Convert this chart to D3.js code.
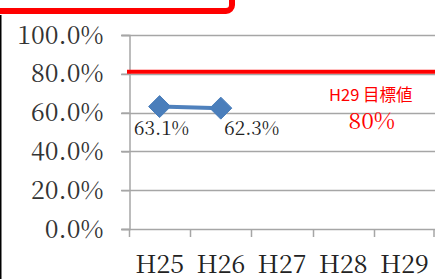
<!DOCTYPE html>
<html>
<head>
<meta charset="utf-8">
<script src="https://cdn.jsdelivr.net/npm/d3@7"></script>
<style>
  body { margin: 0; background: #fff; }
  svg { display: block; }
  .serif { font-family: 'Noto Serif CJK JP', 'Liberation Serif', serif; }
</style>
</head>
<body>
<div id="chart"></div>
<script>
// data
var years = ['H25', 'H26', 'H27', 'H28', 'H29']
var rates = [0.631, 0.623]
var rateLabels = ['63.1%', '62.3%']
var labelSide = ['below', 'right']
var yTicks = [0, 0.2, 0.4, 0.6, 0.8, 1.0]
var target = 0.8
var targetTitle = 'H29 目標値'
var targetText = '80%'

var width = 435
var height = 279

var svg = d3.select('#chart').append('svg')
    .attr('width', width)
    .attr('height', height)

var x = d3.scaleBand()
    .domain(years)
    .range([129, 435])
    .paddingInner(0)
    .paddingOuter(0)

var y = d3.scaleLinear()
    .domain([0, 1])
    .range([229, 35])

// red frame bit at the top and black left border
svg.append('rect')
    .attr('x', -20)
    .attr('y', -40)
    .attr('width', 252)
    .attr('height', 51)
    .attr('rx', 6)
    .attr('fill', 'none')
    .attr('stroke', '#ff0000')
    .attr('stroke-width', 6)
svg.append('line')
    .attr('x1', 0.5).attr('x2', 0.5)
    .attr('y1', 15).attr('y2', height)
    .attr('stroke', '#000')
    .attr('stroke-width', 2)

// horizontal gridlines
svg.append('g')
    .selectAll('line')
    .data(yTicks)
    .enter()
    .append('line')
    .attr('x1', 121)
    .attr('x2', width)
    .attr('y1', function(d) { return Math.round(y(d)) + 0.5 })
    .attr('y2', function(d) { return Math.round(y(d)) + 0.5 })
    .attr('stroke', '#a6a6a6')
    .attr('stroke-width', 1.5)

// y axis
var yAxis = svg.append('g')
    .attr('transform', 'translate(129.5,0)')
    .call(d3.axisLeft(y).tickValues(yTicks).tickSize(8).tickPadding(18)
        .tickFormat(function(d) { return (d * 100).toFixed(1) + '%' }))
yAxis.select('.domain').attr('stroke', '#a6a6a6').attr('stroke-width', 1.5)
yAxis.selectAll('.tick line').attr('stroke', '#a6a6a6').attr('stroke-width', 1.5)
yAxis.selectAll('text')
    .attr('class', 'serif')
    .attr('fill', '#333')
    .style('font-size', '25px')

// x axis, ticks at band edges
var edges = years.map(function(d) { return x(d) }).concat([x.range()[1]])
var xAxis = svg.append('g')
edges.forEach(function(e) {
    xAxis.append('line')
        .attr('x1', Math.min(Math.round(e) + 0.5, width - 1))
        .attr('x2', Math.min(Math.round(e) + 0.5, width - 1))
        .attr('y1', y(0))
        .attr('y2', y(0) + 8)
        .attr('stroke', '#a6a6a6')
        .attr('stroke-width', 1.5)
})
xAxis.selectAll('text')
    .data(years)
    .enter()
    .append('text')
    .attr('class', 'serif')
    .attr('x', function(d) { return x(d) + x.bandwidth() / 2 })
    .attr('y', 273)
    .attr('text-anchor', 'middle')
    .attr('fill', '#222')
    .style('font-size', '25px')
    .text(function(d) { return d })

// target line
svg.append('line')
    .attr('x1', 127)
    .attr('x2', width)
    .attr('y1', y(target) - 2)
    .attr('y2', y(target) - 2)
    .attr('stroke', '#ff0000')
    .attr('stroke-width', 4)

var tx = x('H28') + x.bandwidth()
svg.append('text')
    .attr('x', tx - 3)
    .attr('y', 101)
    .attr('text-anchor', 'middle')
    .attr('fill', '#ff0000')
    .style('font-family', 'Noto Sans CJK JP')
    .style('font-size', '16.5px')
    .text(targetTitle)
svg.append('text')
    .attr('class', 'serif')
    .attr('x', tx - 2)
    .attr('y', 129)
    .attr('text-anchor', 'middle')
    .attr('fill', '#ff0000')
    .style('font-size', '23px')
    .text(targetText)

// series line and markers
var pts = rates.map(function(v, i) {
    return { x: x(years[i]) + x.bandwidth() / 2, y: y(v), label: rateLabels[i], side: labelSide[i] }
})

svg.append('path')
    .datum(pts)
    .attr('fill', 'none')
    .attr('stroke', '#4f81bd')
    .attr('stroke-width', 4)
    .attr('d', d3.line().x(function(d) { return d.x }).y(function(d) { return d.y }))

svg.selectAll('.marker')
    .data(pts)
    .enter()
    .append('path')
    .attr('class', 'marker')
    .attr('transform', function(d) { return 'translate(' + d.x + ',' + d.y + ')' })
    .attr('d', 'M0,-11L11,0L0,11L-11,0Z')
    .attr('fill', '#4a7ebb')
    .attr('stroke', '#4a7ebb')
    .attr('stroke-linejoin', 'round')
    .attr('stroke-width', 1)

svg.selectAll('.lbl')
    .data(pts)
    .enter()
    .append('text')
    .attr('class', 'lbl serif')
    .attr('x', function(d) { return d.side === 'below' ? d.x + 2 : d.x + 31 })
    .attr('y', 135)
    .attr('text-anchor', 'middle')
    .attr('fill', '#222')
    .style('font-size', '19px')
    .text(function(d) { return d.label })
</script>
</body>
</html>
